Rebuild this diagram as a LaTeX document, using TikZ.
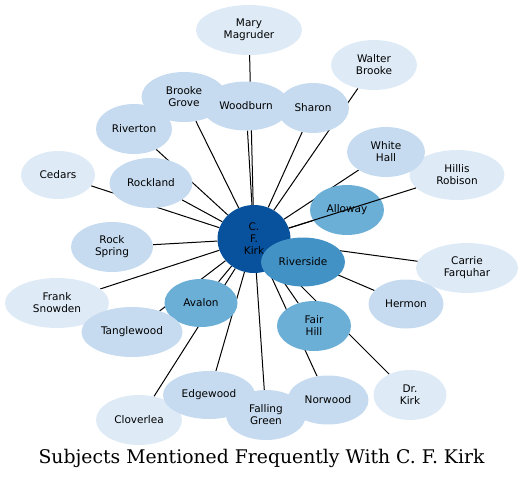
\documentclass[tikz,border=0pt]{standalone}
\usepackage{fontspec}
\setmainfont{DejaVu Sans}
\newfontfamily\titlefont{DejaVu Serif}
\usetikzlibrary{shapes.geometric,backgrounds}
\definecolor{cA}{HTML}{DEEBF7}
\definecolor{cB}{HTML}{C6DBEF}
\definecolor{cC}{HTML}{6BAED6}
\definecolor{cD}{HTML}{4292C6}
\definecolor{cE}{HTML}{08519C}
\tikzset{
  nd/.style={ellipse, inner sep=0pt, align=center, text=black,
    font=\fontsize{10.5}{12}\selectfont},
  edge/.style={draw=black, line width=1pt},
}
\begin{document}
\begin{tikzpicture}[x=1pt,y=-1pt]
\useasboundingbox (0,0) rectangle (523,479);
% lightest
\node[nd, fill=cA, minimum width=106, minimum height=50] (mary) at (249,30) {Mary\\Magruder};
\node[nd, fill=cA, minimum width=86, minimum height=50] (walter) at (374,65) {Walter\\Brooke};
\node[nd, fill=cA, minimum width=74, minimum height=48] (cedars) at (58,175) {Cedars};
\node[nd, fill=cA, minimum width=95, minimum height=50] (hillis) at (457,175) {Hillis\\Robison};
\node[nd, fill=cA, minimum width=104, minimum height=50] (frank) at (57,303) {Frank\\Snowden};
\node[nd, fill=cA, minimum width=102, minimum height=50] (carrie) at (467,268) {Carrie\\Farquhar};
\node[nd, fill=cA, minimum width=86, minimum height=50] (clover) at (139,420) {Cloverlea};
\node[nd, fill=cA, minimum width=73, minimum height=50] (drkirk) at (410,395) {Dr.\\Kirk};
% medium-light
\node[nd, fill=cB, minimum width=85, minimum height=50] (brooke) at (184,97) {Brooke\\Grove};
\node[nd, fill=cB, minimum width=72, minimum height=50] (sharon) at (313,108) {Sharon};
\node[nd, fill=cB, minimum width=88, minimum height=49] (woodburn) at (246,106) {Woodburn};
\node[nd, fill=cB, minimum width=76, minimum height=50] (riverton) at (134,129) {Riverton};
\node[nd, fill=cB, minimum width=83, minimum height=50] (rockland) at (151,183) {Rockland};
\node[nd, fill=cB, minimum width=78, minimum height=50] (white) at (386,152) {White\\Hall};
\node[nd, fill=cB, minimum width=82, minimum height=50] (rock) at (112,247) {Rock\\Spring};
\node[nd, fill=cB, minimum width=75, minimum height=49] (hermon) at (406,304) {Hermon};
\node[nd, fill=cB, minimum width=92, minimum height=48] (edge) at (209,395) {Edgewood};
\node[nd, fill=cB, minimum width=81, minimum height=49] (norwood) at (328,400) {Norwood};
\node[nd, fill=cB, minimum width=80, minimum height=50] (falling) at (266,415) {Falling\\Green};
% medium
\node[nd, fill=cC, minimum width=74, minimum height=50] (alloway) at (347,210) {Alloway};
\node[nd, fill=cC, minimum width=73, minimum height=48] (avalon) at (201,303) {Avalon};
\node[nd, fill=cB, minimum width=101, minimum height=50] (tangle) at (132,332) {Tanglewood};
\node[nd, fill=cC, minimum width=74, minimum height=50] (fair) at (314,326) {Fair\\Hill};
% dark
\node[nd, fill=cE, minimum width=73, minimum height=68] (kirk) at (254,239) {C.\\F.\\Kirk};
\node[nd, fill=cD, minimum width=84, minimum height=49] (riverside) at (303,262) {Riverside};
% edges under the nodes
\begin{pgfonlayer}{background}
\foreach \n in {mary,walter,cedars,frank,carrie,clover,drkirk,brooke,sharon,woodburn,riverton,rockland,white,rock,hermon,edge,norwood,falling,alloway,avalon,tangle,fair,riverside}
  \draw[edge] (kirk) -- (\n);
\end{pgfonlayer}
% edge over Alloway
\draw[edge] (kirk) -- (hillis);
% title
\node[font=\titlefont\fontsize{18.8}{22}\selectfont, inner sep=0pt] (title) at (261.5,458) {Subjects Mentioned Frequently With C. F. Kirk};
\end{tikzpicture}
\end{document}
